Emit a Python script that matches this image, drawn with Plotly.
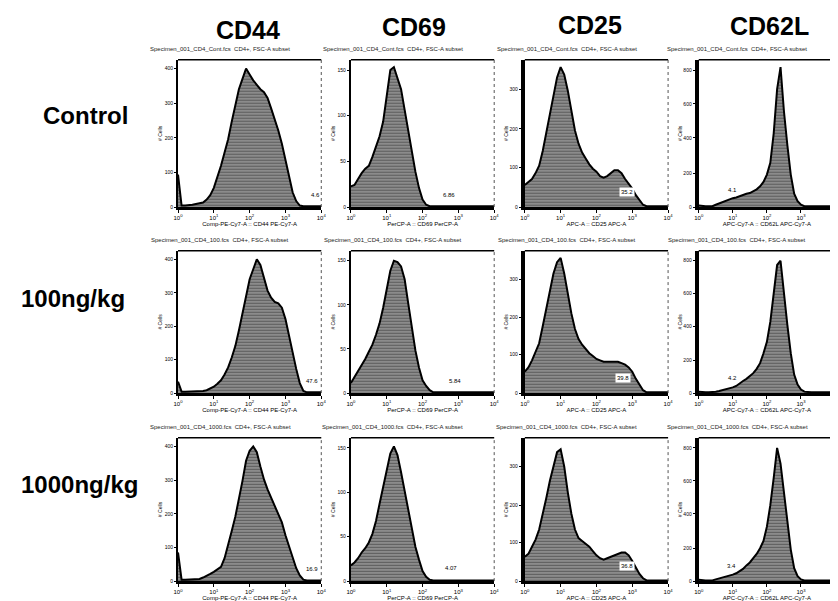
import plotly.graph_objects as go

# ---------------- data ----------------
markers = ["CD44", "CD69", "CD25", "CD62L"]
groups = ["Control", "100ng/kg", "1000ng/kg"]
group_tags = ["Cont", "100", "1000"]
x_tick_vals = [1, 10, 100, 1000, 10000]
x_tick_text = ["10<sup>0</sup>", "10<sup>1</sup>", "10<sup>2</sup>", "10<sup>3</sup>", "10<sup>4</sup>"]
channel_titles = ["Comp-PE-Cy7-A :: CD44 PE-Cy7-A", "PerCP-A :: CD69 PerCP-A",
                  "APC-A :: CD25 APC-A", "APC-Cy7-A :: CD62L APC-Cy7-A"]

# bin centres in decades (log10 fluorescence), 0.1-decade bins
log_bins = [i / 10 for i in range(41)]

# histogram heights, % of the axis height
ctrl_cd44 = [22, 1, 1, 1, 1.5, 2, 2.5, 3, 5, 8, 13, 20, 28, 37, 46, 58, 70, 80, 87, 94,
             90, 86, 83, 80, 78, 74, 67, 60, 52, 43, 32, 20, 10, 4, 1, 0.5, 0.5, 0.5, 0.5, 0.5, 0.5]
ctrl_cd69 = [14, 15, 19, 23, 26, 28, 34, 41, 48, 58, 74, 93, 95, 88, 80, 66, 52, 38, 24, 13,
             5, 1.5] + [0.5] * 19
ctrl_cd25 = [15, 17, 19, 23, 28, 38, 51, 64, 77, 88, 95, 90, 79, 66, 52, 43, 37, 33, 29, 26,
             24, 21, 20, 21, 23, 25, 25, 23, 19, 16, 12.5, 8, 4.5, 1.5] + [0.5] * 7
ctrl_cd62l = [1, 0.5, 0.5, 0.5, 0.5, 1.5, 2.5, 3.5, 4.5, 5.5, 6, 6.5, 7.5, 8, 9, 9.5, 10.5, 12,
              14, 17, 22, 30, 50, 80, 95, 65, 42, 22, 9, 4, 1.5] + [0.5] * 10

d100_cd44 = [8, 1, 1, 1, 1, 1, 1, 1.5, 2, 3, 4.5, 6.5, 9, 13, 18, 25, 33, 44, 56, 68, 80, 87,
             94, 90, 80, 72, 67, 64, 63, 60, 52, 40, 28, 17, 7, 1.5, 0.5, 0.5, 0.5, 0.5, 0.5]
d100_cd69 = [7, 11, 15, 19, 24, 29, 34, 41, 49, 60, 74, 86, 93, 92, 89, 80, 63, 45, 30, 18,
             9, 5, 2] + [0.5] * 18
d100_cd25 = [15, 18, 23, 29, 35, 47, 59, 73, 84, 92, 95, 84, 70, 56, 45, 38, 34, 31, 28, 26,
             24, 23, 22, 22, 22, 22, 22, 21, 20, 18, 15, 10, 5.5, 2] + [0.5] * 7
d100_cd62l = [1, 0.5, 0.5, 0.5, 0.5, 1, 1.5, 2, 2.5, 3, 4, 5, 7, 8.5, 10, 12, 14, 17, 21, 28,
              36, 50, 68, 90, 93, 69, 48, 28, 13, 6, 2.5, 1] + [0.5] * 9

d1000_cd44 = [20, 1, 1, 1, 1, 1, 1.5, 2.5, 3.5, 5, 6.5, 8, 10, 16, 25, 35, 45, 57, 70, 84,
              91, 94, 90, 80, 71, 64, 58, 53, 47, 41, 32, 24, 17, 9, 4, 1, 0.5, 0.5, 0.5, 0.5, 0.5]
d1000_cd69 = [11, 13, 16, 20, 23, 27, 33, 42, 54, 66, 78, 89, 94, 88, 76, 63, 49, 36, 24, 15,
              7, 3, 1] + [0.5] * 18
d1000_cd25 = [17, 19, 24, 29, 36, 46, 58, 70, 80, 90, 92, 80, 62, 47, 36, 30, 28, 26, 24, 21,
              18, 16, 15, 16, 17, 18, 19, 20, 20, 18, 14, 9, 5, 2] + [0.5] * 7
d1000_cd62l = [1, 0.5, 0.5, 0.5, 0.5, 1.2, 1.8, 2.2, 2.8, 3.5, 4.5, 5.5, 7, 8.5, 11, 13, 16, 19,
               23, 28, 38, 53, 72, 93, 82, 62, 40, 22, 9, 3.5, 1.2] + [0.5] * 10

histograms = [
    [ctrl_cd44, ctrl_cd69, ctrl_cd25, ctrl_cd62l],
    [d100_cd44, d100_cd69, d100_cd25, d100_cd62l],
    [d1000_cd44, d1000_cd69, d1000_cd25, d1000_cd62l],
]

# gate percentage labels: (text, decade, height %)
gate_labels = [
    [("4.6", 3.85, 5), ("6.86", 2.75, 5), ("35.2", 2.85, 7), ("4.1", 1.0, 8)],
    [("47.6", 3.75, 5), ("5.84", 2.9, 5), ("39.8", 2.75, 7), ("4.2", 1.0, 7)],
    [("16.9", 3.75, 5), ("4.07", 2.8, 6), ("36.8", 2.85, 7), ("3.4", 0.95, 7)],
]

# y-axis count ticks per marker (position in % of axis height, label)
y_tick_pos = [[0, 23.5, 47, 70.5, 94], [0, 31, 62, 93], [0, 27, 53, 80], [0, 23, 47, 70, 93]]
y_tick_text = [["0", "100", "200", "300", "400"], ["0", "50", "100", "150"],
               ["0", "100", "200", "300"], ["0", "200", "400", "600", "800"]]

# ---------------- layout geometry (pixels) ----------------
W, H = 838, 601
col_px = [(167, 312), (342, 487), (518, 663), (694, 832)]
row_px = [(52, 200), (244, 387), (432, 576)]
header_pos = [(238, 22), (406, 19), (584, 17), (766, 18)]
row_label_pos = [(73, 108, "center"), (6, 292, "left"), (6, 479, "left")]

FONT = "Liberation Sans, Arial, sans-serif"

fig = go.Figure()
layout = dict(width=W, height=H, margin=dict(l=0, r=0, t=0, b=0),
              paper_bgcolor="white", plot_bgcolor="white", showlegend=False,
              font=dict(family=FONT, color="black"))
annotations = []
shapes = []

for r in range(3):
    for c in range(4):
        k = r * 4 + c + 1
        sfx = "" if k == 1 else str(k)
        xa, ya = "x" + sfx, "y" + sfx
        fig.add_trace(go.Scatter(
            x=[10 ** d for d in log_bins], y=histograms[r][c], xaxis=xa, yaxis=ya,
            mode="lines", line=dict(color="black", width=2),
            fill="tozeroy", fillcolor="#8a8a8a",
            fillpattern=dict(shape="-", bgcolor="#8f8f8f", fgcolor="#2a2a2a",
                             size=3, solidity=0.4),
            hoverinfo="skip"))
        x0, x1 = col_px[c]
        y0, y1 = row_px[r]
        layout["xaxis" + sfx] = dict(
            domain=[x0 / W, x1 / W], anchor=ya, type="log", range=[0, 4],
            showline=True, linecolor="black", linewidth=2.5, mirror=False,
            ticks="outside", ticklen=3, tickwidth=1, tickcolor="black",
            tickvals=x_tick_vals, ticktext=x_tick_text,
            tickfont=dict(size=6, family=FONT), showgrid=False, zeroline=False,
            title=dict(text=channel_titles[c], font=dict(size=6, family=FONT), standoff=0))
        layout["yaxis" + sfx] = dict(
            domain=[1 - y1 / H, 1 - y0 / H], anchor=xa, range=[0, 100],
            showline=True, linecolor="black", linewidth=2 if c < 2 else 4,
            ticks="outside", ticklen=2, tickwidth=1, tickcolor="black",
            tickvals=y_tick_pos[c], ticktext=y_tick_text[c],
            tickfont=dict(size=5, family=FONT), showgrid=False, zeroline=False,
            title=dict(text="# Cells", font=dict(size=5, family=FONT), standoff=2))
        # top and right frame
        shapes.append(dict(type="line", xref=xa + " domain", yref=ya + " domain",
                           x0=0, x1=1, y0=1, y1=1, line=dict(color="black", width=1.5)))
        shapes.append(dict(type="line", xref=xa + " domain", yref=ya + " domain",
                           x0=1, x1=1, y0=0, y1=1, line=dict(color="#555", width=1, dash="dot")))
        # panel title
        annotations.append(dict(
            xref="paper", yref="paper", x=((x0 + x1) / 2 - 30) / W, y=1 - (y0 - 11) / H,
            text="Specimen_001_CD4_%s.fcs  CD4+, FSC-A subset" % group_tags[r],
            showarrow=False, font=dict(size=6, family=FONT, color="#222"),
            xanchor="center", yanchor="middle"))
        # gate label
        gt, gx, gy = gate_labels[r][c]
        annotations.append(dict(
            xref=xa, yref=ya, x=gx, y=gy, text=gt, showarrow=False,
            font=dict(size=6, family=FONT), bgcolor="white" if c == 2 else None,
            xanchor="center", yanchor="bottom"))

for c, m in enumerate(markers):
    hx, hy = header_pos[c]
    annotations.append(dict(xref="paper", yref="paper", x=hx / W, y=1 - hy / H,
                            text="<b>%s</b>" % m, showarrow=False,
                            font=dict(size=25, family=FONT), xanchor="center", yanchor="middle"))
for r, g in enumerate(groups):
    lx, ly, anc = row_label_pos[r]
    annotations.append(dict(xref="paper", yref="paper", x=lx / W, y=1 - ly / H,
                            text="<b>%s</b>" % g, showarrow=False,
                            font=dict(size=24, family=FONT), xanchor=anc, yanchor="middle"))

layout["annotations"] = annotations
layout["shapes"] = shapes
fig.update_layout(**layout)
fig.write_html("out.html")
